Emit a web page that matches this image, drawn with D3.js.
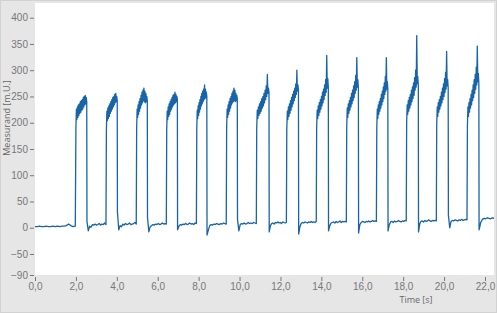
<!DOCTYPE html>
<html>
<head>
<meta charset="utf-8">
<script src="https://cdn.jsdelivr.net/npm/d3@7"></script>
<style>
  html, body { margin: 0; padding: 0; background: #e6e6e6; }
  svg { display: block; font-family: "Open Sans", "Noto Sans", sans-serif; }
  .tick-label { fill: #777; font-size: 10px; }
  .axis-title { fill: #666; font-size: 9px; }
</style>
</head>
<body>
<svg id="chart"></svg>
<script>
const X_TICKS = [0, 2, 4, 6, 8, 10, 12, 14, 16, 18, 20, 22];
const Y_TICKS = [-90, -50, 0, 50, 100, 150, 200, 250, 300, 350, 400];
const T_END   = 22.44;

// pulse on / off times (s)
const riseT = [2.00, 3.49, 4.97, 6.44, 7.91, 9.37, 10.84, 12.31, 13.77, 15.24, 16.71, 18.17, 19.64, 21.14];
const fallT = [2.53, 4.02, 5.49, 6.96, 8.40, 9.89, 11.44, 12.88, 14.34, 15.81, 17.25, 18.74, 20.20, 21.70];

// level before the first pulse
const preVals = [2, 2, 3, 2, 2, 3, 2, 2, 3, 2, 3, 2, 3, 3, 4, 7, 4, 2, 3];

// samples while the pulse is on
const pulseVals = [
  [190, 226, 206, 230, 210, 234, 214, 236, 218, 240, 220, 242, 224, 244, 226, 248, 230, 250, 234, 252, 236, 248, 240],
  [185, 222, 204, 228, 208, 232, 212, 236, 218, 240, 222, 244, 226, 248, 230, 250, 234, 254, 238, 256, 240, 250, 242],
  [190, 226, 210, 234, 216, 240, 222, 246, 228, 252, 234, 258, 238, 262, 242, 266, 240, 260, 238, 256, 240, 250, 242],
  [188, 222, 206, 230, 212, 236, 216, 240, 222, 244, 226, 248, 230, 252, 234, 254, 236, 258, 238, 254, 240, 250, 244],
  [190, 224, 208, 232, 214, 238, 220, 244, 226, 250, 232, 256, 236, 260, 240, 264, 244, 272, 246, 264, 248, 258, 250],
  [192, 226, 210, 234, 216, 240, 222, 246, 228, 250, 234, 256, 238, 260, 240, 266, 242, 262, 240, 256, 242, 252, 246],
  [190, 224, 208, 230, 214, 236, 218, 240, 222, 246, 228, 250, 232, 256, 238, 262, 244, 270, 250, 292, 256, 266, 258],
  [188, 222, 206, 230, 212, 236, 218, 242, 224, 248, 230, 254, 236, 260, 242, 266, 248, 274, 254, 300, 260, 272, 262],
  [190, 224, 208, 232, 214, 238, 220, 244, 226, 250, 232, 258, 238, 264, 244, 272, 252, 282, 258, 328, 266, 284, 268],
  [192, 228, 210, 236, 218, 242, 224, 248, 230, 256, 236, 262, 242, 270, 248, 278, 256, 290, 262, 324, 268, 282, 266],
  [190, 226, 208, 234, 216, 240, 222, 246, 228, 254, 234, 260, 240, 268, 246, 276, 254, 288, 260, 324, 264, 278, 264],
  [200, 234, 216, 242, 222, 248, 228, 254, 234, 262, 240, 268, 246, 276, 252, 286, 262, 300, 268, 366, 274, 288, 270],
  [196, 230, 212, 238, 220, 244, 226, 250, 232, 258, 238, 266, 244, 274, 250, 284, 258, 296, 264, 336, 270, 282, 266],
  [194, 230, 212, 238, 220, 246, 228, 254, 234, 262, 242, 272, 248, 282, 256, 292, 264, 306, 272, 346, 278, 294, 274]
];

// samples between pulses
const gapVals = [
  [12, -6, 3, 1, 6, 5, 7, 5, 6, 8, 5, 7, 6, 9, 6],
  [30, -4, 4, 2, 7, 5, 8, 6, 7, 9, 6, 7, 8, 10, 7],
  [20, -8, 2, 4, 6, 5, 7, 6, 8, 6, 7, 9, 7, 8, 7],
  [-4, 3, 6, 5, 7, 6, 8, 6, 7, 9, 7, 8, 6, 9, 8],
  [-14, -4, 4, 6, 5, 7, 6, 8, 7, 6, 8, 7, 9, 8, 7],
  [16, -6, 6, 8, 7, 9, 7, 8, 10, 8, 9, 8, 10, 9, 8],
  [-8, 4, 8, 9, 7, 10, 9, 11, 9, 10, 8, 11, 10, 9, 10],
  [-12, 2, 8, 10, 9, 11, 10, 9, 11, 10, 12, 10, 11, 10, 12],
  [-6, 4, 9, 10, 11, 9, 12, 10, 11, 13, 10, 12, 11, 12, 11],
  [-10, 6, 10, 12, 11, 10, 12, 11, 13, 11, 12, 14, 12, 13, 12],
  [-6, 6, 11, 12, 10, 13, 11, 12, 14, 12, 11, 13, 12, 14, 13],
  [-8, 8, 12, 13, 11, 14, 12, 13, 15, 13, 12, 14, 13, 14, 13],
  [24, 0, 12, 14, 13, 15, 14, 13, 15, 14, 16, 14, 15, 16, 15]
];

// after the last pulse
const tailVals = [-4, 10, 16, 18, 17, 19, 18, 17, 19, 18];

const W = 497, H = 313;
const PLOT = { left: 35, right: 494, top: 3, bottom: 275 };

const svg = d3.select("#chart").attr("width", W).attr("height", H);

const x = d3.scaleLinear().domain([0, T_END]).range([PLOT.left, PLOT.right]);
const y = d3.scaleLinear().domain([-90, 428]).range([PLOT.bottom, PLOT.top]);

// spread a run of samples evenly between t0 and t1
function spread(vals, t0, t1) {
  const n = vals.length;
  return vals.map((v, k) => [t0 + (t1 - t0) * k / (n - 1), v]);
}

const series = [];
series.push(...spread(preVals, 0, riseT[0] - 0.03));
riseT.forEach((r, i) => {
  series.push(...spread(pulseVals[i], r, fallT[i]));
  if (i < gapVals.length) {
    series.push(...spread(gapVals[i], fallT[i] + 0.01, riseT[i + 1] - 0.02));
  }
});
series.push(...spread(tailVals, fallT[fallT.length - 1] + 0.01, T_END));

// frame
svg.append("rect").attr("x", 0.5).attr("y", 0.5).attr("width", W - 1).attr("height", H - 1)
  .attr("fill", "#e6e6e6").attr("stroke", "#d2d2d2");
svg.append("rect")
  .attr("x", PLOT.left).attr("y", PLOT.top)
  .attr("width", PLOT.right - PLOT.left).attr("height", PLOT.bottom - PLOT.top)
  .attr("fill", "#fff");

// y axis
const yAxis = d3.axisLeft(y).tickValues(Y_TICKS).tickSize(4).tickPadding(2);
const gy = svg.append("g").attr("transform", `translate(${PLOT.left - 1},0)`).call(yAxis);
gy.select(".domain").remove();
gy.selectAll(".tick line").attr("stroke", "#777");
gy.selectAll(".tick text").attr("class", "tick-label").attr("font-family", null).attr("font-size", null);

// x axis
const fmt = d3.format(".1f");
const xAxis = d3.axisBottom(x).tickValues(X_TICKS).tickSize(4).tickPadding(2)
  .tickFormat((d) => fmt(d).replace(".", ","));
const gx = svg.append("g").attr("transform", `translate(0,${PLOT.bottom + 2})`).call(xAxis);
gx.select(".domain").remove();
gx.selectAll(".tick line").attr("stroke", "#777");
gx.selectAll(".tick text").attr("class", "tick-label").attr("font-family", null).attr("font-size", null);

// titles
svg.append("text").attr("class", "axis-title")
  .attr("transform", `translate(10,118) rotate(-90)`)
  .attr("text-anchor", "middle")
  .text("Measurand [m.U.]");
svg.append("text").attr("class", "axis-title")
  .attr("x", 416).attr("y", 303)
  .attr("text-anchor", "middle")
  .text("Time [s]");

// signal
svg.append("clipPath").attr("id", "plot-clip")
  .append("rect")
  .attr("x", PLOT.left).attr("y", PLOT.top)
  .attr("width", PLOT.right - PLOT.left).attr("height", PLOT.bottom - PLOT.top);

const line = d3.line().x((d) => x(d[0])).y((d) => y(d[1]));
svg.append("path")
  .datum(series)
  .attr("clip-path", "url(#plot-clip)")
  .attr("fill", "none")
  .attr("stroke", "#1764a8")
  .attr("stroke-width", 1.3)
  .attr("stroke-linejoin", "round")
  .attr("d", line);
</script>
</body>
</html>
